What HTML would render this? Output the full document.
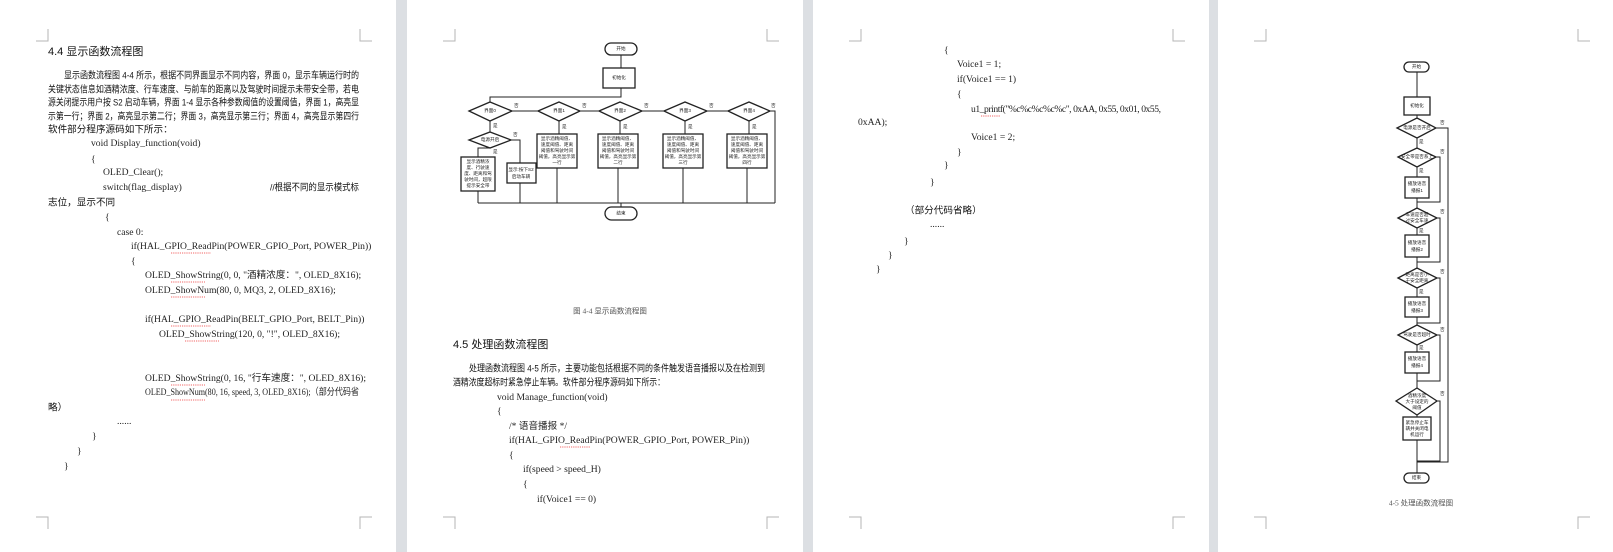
<!DOCTYPE html>
<html><head><meta charset="utf-8"><style>
html,body{margin:0;padding:0;background:#dcdfe3;}
svg{display:block}
.t{font-family:"Liberation Sans","Noto Sans CJK SC",sans-serif;font-size:9.6px;fill:#111;}
.c{font-family:"Liberation Serif","Noto Sans CJK SC",serif;font-size:9.6px;fill:#222;}
.h{font-family:"Liberation Sans","Noto Sans CJK SC",sans-serif;font-size:11px;fill:#111;}
.s{font-family:"Liberation Sans","Noto Sans CJK SC",sans-serif;font-size:4.6px;fill:#222;}
.cap{font-family:"Liberation Serif","Noto Sans CJK SC",serif;font-size:7.5px;fill:#555;}
.m{stroke:#b5b5b5;stroke-width:1;fill:none}
.f{stroke:#222;stroke-width:1;fill:none}
.fb{stroke:#222;stroke-width:1.3;fill:#fff}
.w{stroke:#e33;stroke-width:.8;stroke-dasharray:1.2 1;fill:none}
</style></head><body>
<svg width="1613" height="552" viewBox="0 0 1613 552" xmlns="http://www.w3.org/2000/svg">
<rect width="1613" height="552" fill="#dcdfe3"/>
<rect x="0" y="0" width="396" height="552" fill="#fff"/>
<rect x="407" y="0" width="396" height="552" fill="#fff"/>
<rect x="813" y="0" width="396" height="552" fill="#fff"/>
<rect x="1218" y="0" width="395" height="552" fill="#fff"/>
<g class="m">
<path d="M48 29V41H36M360 29V41H372M48 529V517H36M360 529V517H372"/>
<path d="M455 29V41H443M767 29V41H779M455 529V517H443M767 529V517H779"/>
<path d="M861 29V41H849M1173 29V41H1185M861 529V517H849M1173 529V517H1185"/>
<path d="M1266 29V41H1254M1578 29V41H1590M1266 529V517H1254M1578 529V517H1590"/>
</g>
<g dominant-baseline="middle">
<text class="h" x="48" y="52">4.4  显示函数流程图</text>
<text class="t" x="64" y="76" textLength="295" lengthAdjust="spacingAndGlyphs">显示函数流程图 4-4 所示，根据不同界面显示不同内容，界面 0，显示车辆运行时的</text>
<text class="t" x="48" y="90" textLength="311" lengthAdjust="spacingAndGlyphs">关键状态信息如酒精浓度、行车速度、与前车的距离以及驾驶时间提示未带安全带，若电</text>
<text class="t" x="48" y="103" textLength="311" lengthAdjust="spacingAndGlyphs">源关闭提示用户按 S2 启动车辆，界面 1-4 显示各种参数阈值的设置阈值，界面 1，高亮显</text>
<text class="t" x="48" y="117" textLength="311" lengthAdjust="spacingAndGlyphs">示第一行；界面 2，高亮显示第二行；界面 3，高亮显示第三行；界面 4，高亮显示第四行</text>
<text class="t" x="48" y="130">软件部分程序源码如下所示：</text>
<text class="c" x="91" y="144">void Display_function(void)</text>
<text class="c" x="91" y="160">{</text>
<text class="c" x="103" y="173">OLED_Clear();</text>
<text class="c" x="103" y="188">switch(flag_display)</text>
<text class="t" x="270" y="188" textLength="89" lengthAdjust="spacingAndGlyphs">//根据不同的显示模式标</text>
<text class="t" x="48" y="203">志位，显示不同</text>
<text class="c" x="105" y="218">{</text>
<text class="c" x="117" y="233">case 0:</text>
<text class="c" x="131" y="247">if(HAL_GPIO_ReadPin(POWER_GPIO_Port, POWER_Pin))</text>
<text class="c" x="131" y="262">{</text>
<text class="c" x="145" y="276">OLED_ShowString(0, 0, "酒精浓度：", OLED_8X16);</text>
<text class="c" x="145" y="291">OLED_ShowNum(80, 0, MQ3, 2, OLED_8X16);</text>
<text class="c" x="145" y="320">if(HAL_GPIO_ReadPin(BELT_GPIO_Port, BELT_Pin))</text>
<text class="c" x="159" y="335">OLED_ShowString(120, 0, "!", OLED_8X16);</text>
<text class="c" x="145" y="379">OLED_ShowString(0, 16, "行车速度：", OLED_8X16);</text>
<text class="c" x="145" y="393" textLength="214" lengthAdjust="spacingAndGlyphs">OLED_ShowNum(80, 16, speed, 3, OLED_8X16);（部分代码省</text>
<text class="t" x="48" y="408">略）</text>
<text class="c" x="117" y="422">......</text>
<text class="c" x="92" y="437">}</text>
<text class="c" x="77" y="452">}</text>
<text class="c" x="64" y="467">}</text>
<path class="w" d="M171 253h40M171 282h34M171 297h34M171 326h40M185 341h34M171 385h34M171 400h34"/>

<g>
<rect class="fb" x="605" y="43" width="32" height="12" rx="6"/>
<text class="s" x="621" y="49" text-anchor="middle">开始</text>
<path class="f" d="M621 55V68M621 88V97H490V102"/>
<rect class="fb" x="603" y="68" width="32" height="20"/>
<text class="s" x="619" y="78" text-anchor="middle">初始化</text>
<path class="f" d="M512 111H538M580 111H599M642 111H664M707 111H728M770 111H775V203M478 203H775M621 203V207"/>
<path class="f" d="M490 121V132M559 121V134M620 121V134M685 121V134M749 121V134"/>
<path class="f" d="M490 148H478V157M511 140H520V163M478 191V203M520 183V203M557 168V203M618 168V203M683 168V203M747 168V203"/>
<polygon class="fb" points="469,111 490,102 512,111 490,121"/>
<polygon class="fb" points="538,111 559,102 580,111 559,121"/>
<polygon class="fb" points="599,111 620,102 642,111 620,121"/>
<polygon class="fb" points="664,111 685,102 707,111 685,121"/>
<polygon class="fb" points="728,111 749,102 770,111 749,121"/>
<polygon class="fb" points="469,140 490,132 511,140 490,148"/>
<text class="s" x="490" y="111" text-anchor="middle">界面0</text>
<text class="s" x="559" y="111" text-anchor="middle">界面1</text>
<text class="s" x="620" y="111" text-anchor="middle">界面2</text>
<text class="s" x="685" y="111" text-anchor="middle">界面3</text>
<text class="s" x="749" y="111" text-anchor="middle">界面4</text>
<text class="s" x="490" y="140" text-anchor="middle">电源开启</text>
<text class="s" x="514" y="106">否</text><text class="s" x="582" y="106">否</text><text class="s" x="644" y="106">否</text><text class="s" x="709" y="106">否</text><text class="s" x="771" y="106">否</text>
<text class="s" x="493" y="126">是</text><text class="s" x="562" y="127">是</text><text class="s" x="623" y="127">是</text><text class="s" x="688" y="127">是</text><text class="s" x="752" y="127">是</text>
<text class="s" x="513" y="135">否</text><text class="s" x="493" y="152">是</text>
<rect class="fb" x="461" y="157" width="34" height="34"/>
<text class="s" x="478" y="162" text-anchor="middle">显示酒精浓</text>
<text class="s" x="478" y="168" text-anchor="middle">度、行驶速</text>
<text class="s" x="478" y="174" text-anchor="middle">度、距离和驾</text>
<text class="s" x="478" y="180" text-anchor="middle">驶时间，超限</text>
<text class="s" x="478" y="186" text-anchor="middle">提示安全带</text>
<rect class="fb" x="507" y="163" width="29" height="20"/>
<text class="s" x="521" y="170" text-anchor="middle">显示:按下S2</text>
<text class="s" x="521" y="177" text-anchor="middle">启动车辆</text>
<g>
<rect class="fb" x="537" y="134" width="40" height="34"/>
<text class="s" x="557" y="139" text-anchor="middle">显示酒精阈值、</text>
<text class="s" x="557" y="145" text-anchor="middle">速度阈值、距离</text>
<text class="s" x="557" y="151" text-anchor="middle">阈值和驾驶时间</text>
<text class="s" x="557" y="157" text-anchor="middle">阈值，高亮显示第</text>
<text class="s" x="557" y="163" text-anchor="middle">一行</text>
</g>
<g transform="translate(61,0)"><rect class="fb" x="537" y="134" width="40" height="34"/>
<text class="s" x="557" y="139" text-anchor="middle">显示酒精阈值、</text><text class="s" x="557" y="145" text-anchor="middle">速度阈值、距离</text><text class="s" x="557" y="151" text-anchor="middle">阈值和驾驶时间</text><text class="s" x="557" y="157" text-anchor="middle">阈值，高亮显示第</text><text class="s" x="557" y="163" text-anchor="middle">二行</text></g>
<g transform="translate(126,0)"><rect class="fb" x="537" y="134" width="40" height="34"/>
<text class="s" x="557" y="139" text-anchor="middle">显示酒精阈值、</text><text class="s" x="557" y="145" text-anchor="middle">速度阈值、距离</text><text class="s" x="557" y="151" text-anchor="middle">阈值和驾驶时间</text><text class="s" x="557" y="157" text-anchor="middle">阈值，高亮显示第</text><text class="s" x="557" y="163" text-anchor="middle">三行</text></g>
<g transform="translate(190,0)"><rect class="fb" x="537" y="134" width="40" height="34"/>
<text class="s" x="557" y="139" text-anchor="middle">显示酒精阈值、</text><text class="s" x="557" y="145" text-anchor="middle">速度阈值、距离</text><text class="s" x="557" y="151" text-anchor="middle">阈值和驾驶时间</text><text class="s" x="557" y="157" text-anchor="middle">阈值，高亮显示第</text><text class="s" x="557" y="163" text-anchor="middle">四行</text></g>
<rect class="fb" x="605" y="207" width="32" height="13" rx="6.5"/>
<text class="s" x="621" y="213.5" text-anchor="middle">结束</text>
</g>
<text class="cap" x="610" y="312" text-anchor="middle">图 4-4    显示函数流程图</text>
<text class="h" x="453" y="345">4.5  处理函数流程图</text>
<text class="t" x="469" y="369" textLength="296" lengthAdjust="spacingAndGlyphs">处理函数流程图 4-5 所示，主要功能包括根据不同的条件触发语音播报以及在检测到</text>
<text class="t" x="453" y="383" textLength="212" lengthAdjust="spacingAndGlyphs">酒精浓度超标时紧急停止车辆。软件部分程序源码如下所示：</text>
<text class="c" x="497" y="398">void Manage_function(void)</text>
<text class="c" x="497" y="412">{</text>
<text class="c" x="509" y="427">/*  语音播报  */</text>
<text class="c" x="509" y="441">if(HAL_GPIO_ReadPin(POWER_GPIO_Port, POWER_Pin))</text>
<text class="c" x="509" y="456">{</text>
<text class="c" x="523" y="470">if(speed &gt; speed_H)</text>
<text class="c" x="523" y="485">{</text>
<text class="c" x="537" y="500">if(Voice1 == 0)</text>
<path class="w" d="M560 447h30"/>

<text class="c" x="944" y="51">{</text>
<text class="c" x="957" y="65">Voice1 = 1;</text>
<text class="c" x="957" y="80">if(Voice1 == 1)</text>
<text class="c" x="957" y="95">{</text>
<text class="c" x="971" y="110" textLength="190" lengthAdjust="spacing">u1_printf("%c%c%c%c%c",  0xAA,  0x55,  0x01,  0x55,</text>
<text class="c" x="858" y="123">0xAA);</text>
<text class="c" x="971" y="138">Voice1 = 2;</text>
<text class="c" x="957" y="153">}</text>
<text class="c" x="944" y="166">}</text>
<text class="c" x="930" y="183">}</text>
<text class="t" x="905" y="211">（部分代码省略）</text>
<text class="c" x="930" y="225">......</text>
<text class="c" x="904" y="242">}</text>
<text class="c" x="888" y="256">}</text>
<text class="c" x="876" y="270">}</text>
<path class="w" d="M981 116h19"/>

<g>
<rect class="fb" x="1404" y="62" width="25" height="10" rx="5"/>
<text class="s" x="1416.5" y="67" text-anchor="middle">开始</text>
<path class="f" d="M1417 72V97M1417 115V118M1417 138V148M1417 167V177M1417 198V208M1417 228V235M1417 257V268M1417 288V297M1417 317V325M1417 345V352M1417 373V388M1417 415V417M1417 440V473"/>
<path class="f" d="M1436 128H1448V462H1417"/>
<path class="f" d="M1436 157H1440V202H1417M1437 218H1440V262H1417M1437 278H1440V323H1417M1437 335H1440V381H1417M1437 401H1440V461H1417"/>
<rect class="fb" x="1404" y="97" width="26" height="18"/>
<text class="s" x="1417" y="106" text-anchor="middle">初始化</text>
<polygon class="fb" points="1397,128 1417,118 1436,128 1417,138"/>
<text class="s" x="1417" y="128" text-anchor="middle">电源是否开启</text>
<polygon class="fb" points="1398,157 1417,148 1436,157 1417,167"/>
<text class="s" x="1417" y="157" text-anchor="middle">安全带是否系上</text>
<rect class="fb" x="1405" y="177" width="24" height="21"/>
<text class="s" x="1417" y="184" text-anchor="middle">播放语音</text><text class="s" x="1417" y="191" text-anchor="middle">播报1</text>
<polygon class="fb" points="1398,218 1417,208 1437,218 1417,228"/>
<text class="s" x="1417" y="215" text-anchor="middle">车速是否超</text><text class="s" x="1417" y="221" text-anchor="middle">过安全车速</text>
<rect class="fb" x="1405" y="235" width="24" height="22"/>
<text class="s" x="1417" y="243" text-anchor="middle">播放语音</text><text class="s" x="1417" y="250" text-anchor="middle">播报2</text>
<polygon class="fb" points="1398,278 1417,268 1437,278 1417,288"/>
<text class="s" x="1417" y="275" text-anchor="middle">距离是否小</text><text class="s" x="1417" y="281" text-anchor="middle">于安全距离</text>
<rect class="fb" x="1405" y="297" width="24" height="20"/>
<text class="s" x="1417" y="304" text-anchor="middle">播放语音</text><text class="s" x="1417" y="311" text-anchor="middle">播报3</text>
<polygon class="fb" points="1398,335 1417,325 1437,335 1417,345"/>
<text class="s" x="1417" y="335" text-anchor="middle">驾驶是否超时</text>
<rect class="fb" x="1405" y="352" width="24" height="21"/>
<text class="s" x="1417" y="359" text-anchor="middle">播放语音</text><text class="s" x="1417" y="366" text-anchor="middle">播报4</text>
<polygon class="fb" points="1396,401 1417,388 1437,401 1417,415"/>
<text class="s" x="1417" y="396" text-anchor="middle">酒精浓度</text><text class="s" x="1417" y="402" text-anchor="middle">大于设定的</text><text class="s" x="1417" y="408" text-anchor="middle">阈值</text>
<rect class="fb" x="1403" y="417" width="28" height="23"/>
<text class="s" x="1417" y="423" text-anchor="middle">紧急停止车</text><text class="s" x="1417" y="429" text-anchor="middle">辆并关闭电</text><text class="s" x="1417" y="435" text-anchor="middle">机运行</text>
<rect class="fb" x="1404" y="473" width="25" height="10" rx="5"/>
<text class="s" x="1416.5" y="478" text-anchor="middle">结束</text>
<text class="s" x="1440" y="123">否</text><text class="s" x="1440" y="152">否</text><text class="s" x="1440" y="212">否</text><text class="s" x="1440" y="272">否</text><text class="s" x="1440" y="330">否</text><text class="s" x="1440" y="394">否</text>
<text class="s" x="1419" y="142">是</text><text class="s" x="1419" y="171">是</text><text class="s" x="1419" y="231">是</text><text class="s" x="1419" y="292">是</text><text class="s" x="1419" y="348">是</text>
</g>
<text class="cap" x="1421" y="504" text-anchor="middle">4-5 处理函数流程图</text>
</g>
</svg>
</body></html>
